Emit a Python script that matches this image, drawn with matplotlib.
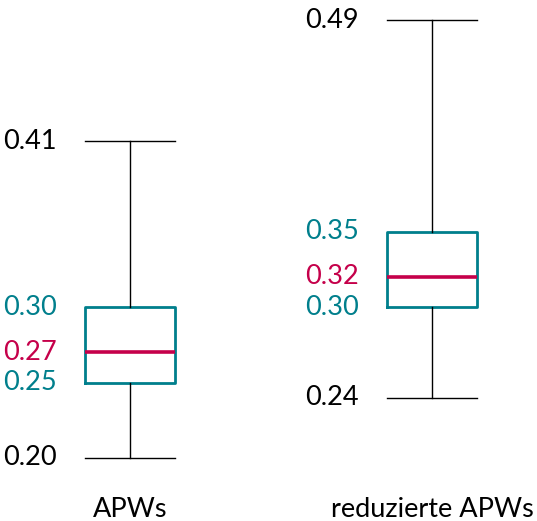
import matplotlib
matplotlib.use("Agg")
import matplotlib.pyplot as plt

labels = ["APWs", "reduzierte APWs"]
whislo = [0.20, 0.24]
q1 = [0.25, 0.30]
med = [0.27, 0.32]
q3 = [0.30, 0.35]
whishi = [0.41, 0.49]

teal = "#007f8c"
crimson = "#c5004a"

plt.rcParams["font.family"] = ["Lato", "DejaVu Sans"]

fig = plt.figure(figsize=(5.37, 5.21), dpi=100)
ax = fig.add_axes([0, 0, 1, 1])

stats = []
for i in range(len(labels)):
    stats.append(dict(label=labels[i], whislo=whislo[i], q1=q1[i], med=med[i],
                      q3=q3[i], whishi=whishi[i], fliers=[]))

pos = [1, 2]
ax.bxp(stats, positions=pos, widths=0.298, showfliers=False,
       boxprops=dict(color=teal, linewidth=2),
       medianprops=dict(color=crimson, linewidth=2.6),
       whiskerprops=dict(color="black", linewidth=1),
       capprops=dict(color="black", linewidth=1),
       capwidths=0.298)

ax.set_xlim(0.5695, 2.3477)
ax.set_ylim(0.15825, 0.50351)
ax.axis("off")

fs = 19.5
for i, p in enumerate(pos):
    left = p - 0.149
    for val, col in [(whislo[i], "black"), (whishi[i], "black"),
                     (q1[i], teal), (q3[i], teal), (med[i], crimson)]:
        ax.annotate(f"{val:.2f}", xy=(left, val), xytext=(-28, 0),
                    textcoords="offset pixels", ha="right", va="center",
                    color=col, fontsize=fs)
    # category name under each box
    ax.text(p, 0.008, labels[i], transform=ax.get_xaxis_transform(),
            ha="center", va="baseline", fontsize=fs)

fig.savefig("out.png", dpi=100)
